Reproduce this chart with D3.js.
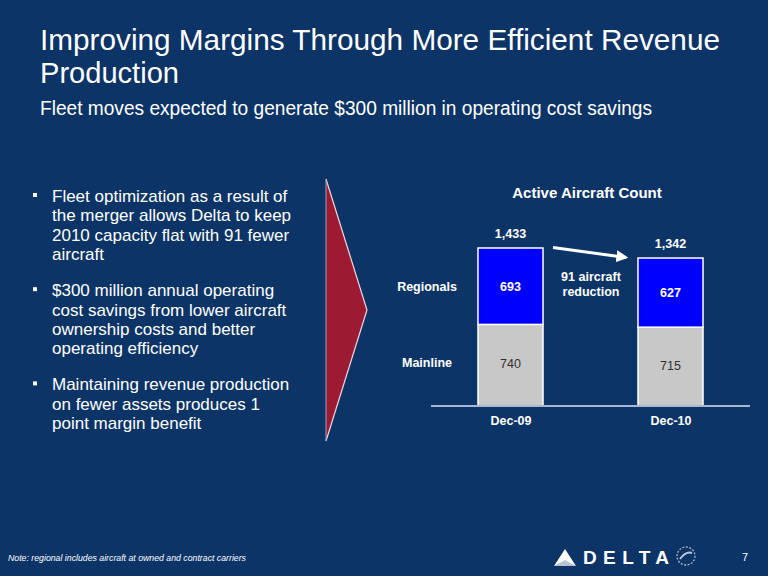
<!DOCTYPE html>
<html>
<head>
<meta charset="utf-8">
<script src="https://cdn.jsdelivr.net/npm/d3@7"></script>
<style>
  html, body { margin: 0; padding: 0; background: #0c3467; }
  svg { display: block; }
</style>
</head>
<body>
<svg id="chart" width="768" height="576"></svg>
<script>
// ---- data ----
const categories = ["Dec-09", "Dec-10"];
const mainline = [740, 715];
const regionals = [693, 627];
const totals = [1433, 1342];
const seriesNames = ["Mainline", "Regionals"];
const titleLines = ["Improving Margins Through More Efficient Revenue", "Production"];
const subtitle = "Fleet moves expected to generate $300 million in operating cost savings";
const chartTitle = "Active Aircraft Count";
const reductionLabel = ["91 aircraft", "reduction"];
const bullets = [
  ["Fleet optimization as a result of", "the merger allows Delta to keep", "2010 capacity flat with 91 fewer", "aircraft"],
  ["$300 million annual operating", "cost savings from lower aircraft", "ownership costs and better", "operating efficiency"],
  ["Maintaining revenue production", "on fewer assets produces 1", "point margin benefit"]
];
const note = "Note:  regional includes aircraft at owned and contract carriers";
const pageNumber = "7";

// ---- drawing ----
const svg = d3.select("#chart");
svg.append("rect").attr("width", 768).attr("height", 576).attr("fill", "#0c3467");

// Title
const narrow = "'Liberation Sans Narrow', 'Arial Narrow', 'Liberation Sans', Arial, sans-serif";
const titleWidths = [680, 139];
const titleY = [50, 83];
titleLines.forEach((t, i) => {
  svg.append("text").attr("x", 40).attr("y", titleY[i])
    .attr("font-family", narrow).attr("font-size", 30).attr("fill", "#ffffff")
    .attr("textLength", titleWidths[i]).attr("lengthAdjust", "spacingAndGlyphs")
    .text(t);
});
svg.append("text").attr("x", 40).attr("y", 115)
  .attr("font-family", narrow).attr("font-size", 19.5).attr("fill", "#ffffff")
  .attr("textLength", 612).attr("lengthAdjust", "spacingAndGlyphs")
  .text(subtitle);

// Bullets
const sans = "'Liberation Sans', Arial, Helvetica, sans-serif";
let by = 202;
bullets.forEach((lines) => {
  svg.append("rect").attr("x", 33).attr("y", by - 9).attr("width", 4).attr("height", 4).attr("fill", "#ffffff");
  lines.forEach((l, li) => {
    svg.append("text").attr("x", 52).attr("y", by + li * 19.3)
      .attr("font-family", sans).attr("font-size", 17).attr("fill", "#ffffff")
      .text(l);
  });
  by += lines.length * 19.3 + 17;
});

// Red chevron
svg.append("polygon")
  .attr("points", "326,179 367,310 326,441")
  .attr("fill", "#9d1a33");
svg.append("polyline")
  .attr("points", "326,179 367,310 326,441")
  .attr("fill", "none").attr("stroke", "#f0d8dc").attr("stroke-width", 1.2);
svg.append("line").attr("x1", 326).attr("x2", 326).attr("y1", 179).attr("y2", 441)
  .attr("stroke", "#9aa4b8").attr("stroke-width", 1);

// Chart
const x = d3.scalePoint().domain(categories).range([510.5, 670.5]);
const y = d3.scaleLinear().domain([0, 1433]).range([406, 248]);
const barW = 65;

svg.append("text").attr("x", 587).attr("y", 198).attr("text-anchor", "middle")
  .attr("font-family", sans).attr("font-weight", "bold").attr("font-size", 15).attr("fill", "#ffffff")
  .text(chartTitle);

const stack = categories.map((c, i) => ({ cat: c, main: mainline[i], reg: regionals[i], total: totals[i] }));

const g = svg.append("g");
// mainline
g.selectAll(".main").data(stack).join("rect")
  .attr("x", d => x(d.cat) - barW / 2).attr("width", barW)
  .attr("y", d => y(d.main)).attr("height", d => y(0) - y(d.main))
  .attr("fill", "#c8c8c8").attr("stroke", "#ffffff").attr("stroke-width", 1.5);
// regionals
g.selectAll(".reg").data(stack).join("rect")
  .attr("x", d => x(d.cat) - barW / 2).attr("width", barW)
  .attr("y", d => y(d.main + d.reg)).attr("height", d => y(d.main) - y(d.main + d.reg))
  .attr("fill", "#0000ff").attr("stroke", "#ffffff").attr("stroke-width", 1.5);

// labels in bars
g.selectAll(".mainLbl").data(stack).join("text")
  .attr("x", d => x(d.cat)).attr("y", d => (y(0) + y(d.main)) / 2 + 3)
  .attr("text-anchor", "middle").attr("font-family", sans).attr("font-size", 12.5)
  .attr("fill", "#303030").text(d => d3.format(",")(d.main));
g.selectAll(".regLbl").data(stack).join("text")
  .attr("x", d => x(d.cat)).attr("y", d => (y(d.main) + y(d.main + d.reg)) / 2 + 4.5)
  .attr("text-anchor", "middle").attr("font-family", sans).attr("font-weight", "bold").attr("font-size", 12.5)
  .attr("fill", "#ffffff").text(d => d3.format(",")(d.reg));
g.selectAll(".totLbl").data(stack).join("text")
  .attr("x", d => x(d.cat)).attr("y", d => y(d.total) - 10)
  .attr("text-anchor", "middle").attr("font-family", sans).attr("font-weight", "bold").attr("font-size", 12.5)
  .attr("fill", "#ffffff").text(d => d3.format(",")(d.total));

// axis baseline
svg.append("line").attr("x1", 431).attr("x2", 750).attr("y1", y(0)).attr("y2", y(0))
  .attr("stroke", "#a8b8d0").attr("stroke-width", 2);

// category labels
const xAxis = d3.axisBottom(x).tickSize(0).tickPadding(0);
const ax = svg.append("g").attr("transform", `translate(0,${y(0) + 10})`).call(xAxis);
ax.select(".domain").remove();
ax.selectAll("text").attr("font-family", sans).attr("font-weight", "bold").attr("font-size", 12.5)
  .attr("fill", "#ffffff").attr("dy", "0.75em");

// series labels on the left
const seriesLbl = [
  { name: seriesNames[1], yv: y(mainline[0] + regionals[0] / 2) + 4.5 },
  { name: seriesNames[0], yv: y(mainline[0] / 2) + 2 }
];
svg.selectAll(".serLbl").data(seriesLbl).join("text")
  .attr("x", 427).attr("y", d => d.yv).attr("text-anchor", "middle")
  .attr("font-family", sans).attr("font-weight", "bold").attr("font-size", 12.5).attr("fill", "#ffffff")
  .text(d => d.name);

// reduction arrow
const defs = svg.append("defs");
defs.append("marker").attr("id", "ah").attr("viewBox", "0 0 10 10").attr("refX", 8).attr("refY", 5)
  .attr("markerWidth", 4).attr("markerHeight", 4).attr("orient", "auto")
  .append("path").attr("d", "M0,0 L10,5 L0,10 z").attr("fill", "#ffffff");
svg.append("line").attr("x1", 553).attr("y1", 247.5).attr("x2", 626).attr("y2", 257.5)
  .attr("stroke", "#ffffff").attr("stroke-width", 3).attr("marker-end", "url(#ah)");
reductionLabel.forEach((t, i) => {
  svg.append("text").attr("x", 591).attr("y", 281 + i * 14.5).attr("text-anchor", "middle")
    .attr("font-family", sans).attr("font-weight", "bold").attr("font-size", 12.5).attr("fill", "#ffffff")
    .text(t);
});

// Footer
svg.append("text").attr("x", 8).attr("y", 561)
  .attr("font-family", sans).attr("font-style", "italic").attr("font-size", 8.5).attr("fill", "#ffffff")
  .attr("textLength", 238).attr("lengthAdjust", "spacingAndGlyphs")
  .text(note);

// Delta logo
svg.append("polygon").attr("points", "565,549 576,566 565,562 554,566").attr("fill", "#ffffff");
svg.append("polygon").attr("points", "565,560 576,566 554,566").attr("fill", "#b8c4d4");
svg.append("text").attr("x", 583).attr("y", 564)
  .attr("font-family", sans).attr("font-weight", "bold").attr("font-size", 19).attr("fill", "#ffffff")
  .attr("textLength", 86).attr("lengthAdjust", "spacing")
  .text("DELTA");
svg.append("circle").attr("cx", 686).attr("cy", 556).attr("r", 9)
  .attr("fill", "none").attr("stroke", "#a8b4c8").attr("stroke-width", 1.3).attr("stroke-dasharray", "2,1.5");
svg.append("path").attr("d", "M680,559 Q686,551 692,553").attr("fill", "none").attr("stroke", "#c0c8d8").attr("stroke-width", 2);
svg.append("text").attr("x", 745).attr("y", 561).attr("text-anchor", "middle")
  .attr("font-family", sans).attr("font-size", 11).attr("fill", "#ffffff").text(pageNumber);
</script>
</body>
</html>
